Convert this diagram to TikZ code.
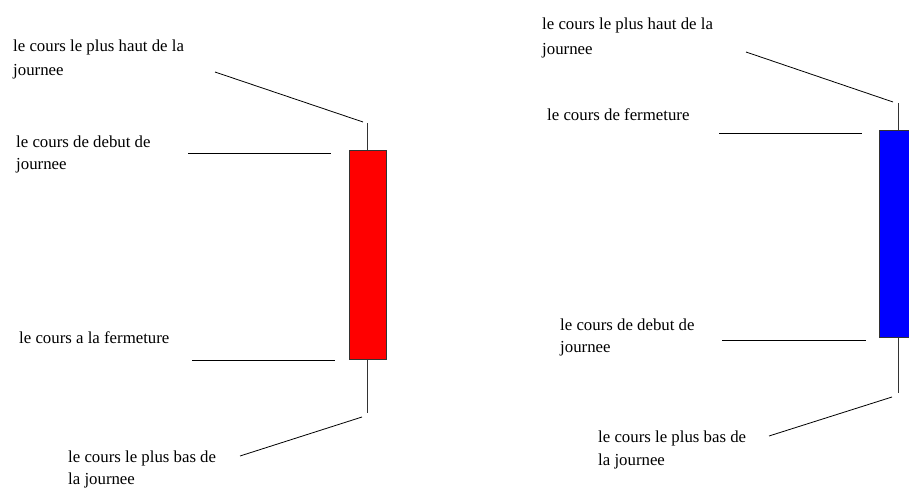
\documentclass[tikz,border=0pt]{standalone}
\usepackage{fontspec}
\setmainfont{Liberation Serif}
\begin{document}
\begin{tikzpicture}[x=1pt,y=-1pt,
  lbl/.style={anchor=base west,inner sep=0pt,font=\fontsize{16.8}{20}\selectfont},
  lead/.style={line width=0.8pt,black},
  wick/.style={line width=1pt,black!80},
  body/.style={draw=black!80,line width=1pt}]
\useasboundingbox (0,0) rectangle (909,489);
\clip (0,0) rectangle (909,489);
% ---------- left (red) candle ----------
\node[body,fill=red,minimum width=37pt,minimum height=208pt,inner sep=0pt] (rb) at (367.5,255) {};
\coordinate (rhi) at (367.5,123);
\coordinate (rlo) at (367.5,413);
\draw[wick] (rb.north) -- (rhi);
\draw[wick] (rb.south) -- (rlo);
\node[lbl] (l1a) at (13,52) {le cours le plus haut de la};
\node[lbl] (l1b) at (13,76) {journee};
\node[lbl] (l2a) at (16,148) {le cours de debut de};
\node[lbl] (l2b) at (16,170) {journee};
\node[lbl] (l3a) at (19,343) {le cours a la fermeture};
\node[lbl] (l4a) at (68,462) {le cours le plus bas de};
\node[lbl] (l4b) at (68,484) {la journee};
\coordinate (a1) at (215,72); \coordinate (a2) at (363,122);
\coordinate (b1) at (188,153); \coordinate (b2) at (331,153);
\coordinate (c1) at (192,360); \coordinate (c2) at (335,360);
\coordinate (d1) at (240,456); \coordinate (d2) at (362,417);
\draw[lead] (a1) -- (a2);
\draw[lead] (b1) -- (b2);
\draw[lead] (c1) -- (c2);
\draw[lead] (d1) -- (d2);
% ---------- right (blue) candle ----------
\node[body,fill=blue,minimum width=38pt,minimum height=206pt,inner sep=0pt] (bb) at (898,234) {};
\coordinate (bhi) at (898,103);
\coordinate (blo) at (898,393);
\draw[wick] (bb.north) -- (bhi);
\draw[wick] (bb.south) -- (blo);
\node[lbl] (r1a) at (542,30) {le cours le plus haut de la};
\node[lbl] (r1b) at (542,55) {journee};
\node[lbl] (r2a) at (547,121) {le cours de fermeture};
\node[lbl] (r3a) at (560,330) {le cours de debut de};
\node[lbl] (r3b) at (560,352) {journee};
\node[lbl] (r4a) at (598,442) {le cours le plus bas de};
\node[lbl] (r4b) at (598,465) {la journee};
\coordinate (e1) at (746,52); \coordinate (e2) at (893,102);
\coordinate (f1) at (719,133); \coordinate (f2) at (862,133);
\coordinate (g1) at (722,340); \coordinate (g2) at (866,340);
\coordinate (h1) at (769,436); \coordinate (h2) at (892,397);
\draw[lead] (e1) -- (e2);
\draw[lead] (f1) -- (f2);
\draw[lead] (g1) -- (g2);
\draw[lead] (h1) -- (h2);
\end{tikzpicture}
\end{document}
